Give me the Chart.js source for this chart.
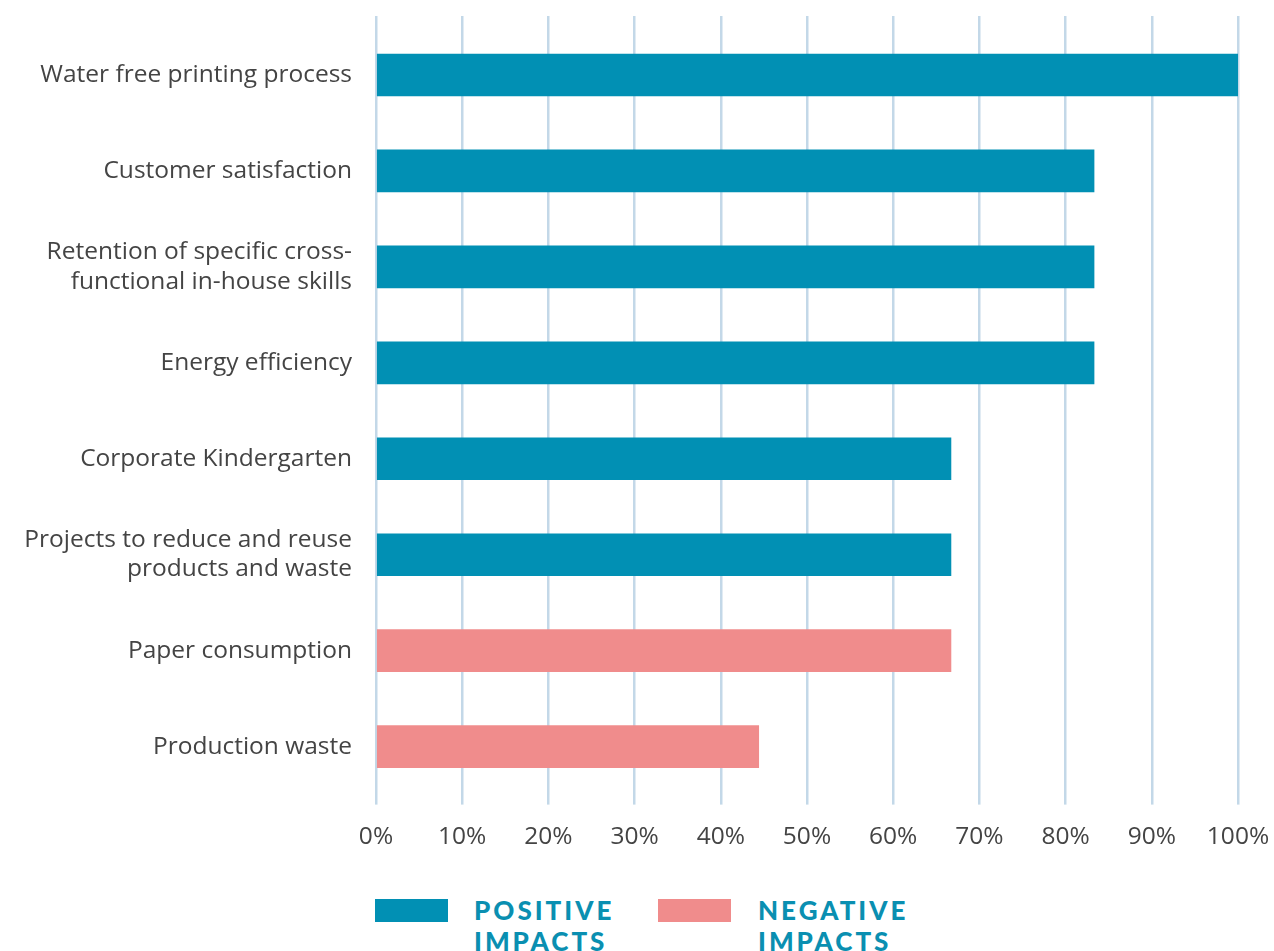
<!DOCTYPE html>
<html>
<head>
<meta charset="utf-8">
<script src="https://cdn.jsdelivr.net/npm/chart.js@4.4.1/dist/chart.umd.min.js"></script>
<style>
  html, body { margin: 0; padding: 0; background: #fff; overflow: hidden; }
  #wrap { position: relative; width: 1274px; height: 951px; }
  #chart-box { position: absolute; left: 0; top: 0; width: 1274px; height: 870px; }
  .legend { position: absolute; top: 895px; font-family: Lato, sans-serif; font-weight: 900;
            color: #0a8fb1; font-size: 26px; letter-spacing: 3px; line-height: 31px; }
  .swatch { position: absolute; top: 899px; width: 73px; height: 23px; }
</style>
</head>
<body>
<div id="wrap">
  <div id="chart-box"><canvas id="impactChart"></canvas></div>
  <div class="swatch" style="left:375px;background:#0190b4"></div>
  <div class="legend" style="left:474px">POSITIVE<br>IMPACTS</div>
  <div class="swatch" style="left:658px;background:#f08c8c"></div>
  <div class="legend" style="left:758px">NEGATIVE<br>IMPACTS</div>
</div>
<script>
const categories = [
  'Water free printing process',
  'Customer satisfaction',
  ['Retention of specific cross-', 'functional in-house skills'],
  'Energy efficiency',
  'Corporate Kindergarten',
  ['Projects to reduce and reuse', 'products and waste'],
  'Paper consumption',
  'Production waste'
];
const positiveImpacts = [100, 83.3, 83.3, 83.3, 66.7, 66.7, null, null];
const negativeImpacts = [null, null, null, null, null, null, 66.7, 44.4];
const tickValues = [0, 10, 20, 30, 40, 50, 60, 70, 80, 90, 100];

const gridColor = '#c3d8e8';
const labelFont = { family: 'Open Sans', size: 24.5 };

// drop the extra room Chart.js keeps for overflowing labels
function noLabelPadding(scale) {
  scale.paddingLeft = 0;
  scale.paddingRight = 0;
  scale.paddingTop = 0;
  scale.paddingBottom = 0;
}

const ctx = document.getElementById('impactChart');

new Chart(ctx, {
  type: 'bar',
  data: {
    labels: categories,
    datasets: [{
      label: 'Positive impacts',
      data: positiveImpacts,
      backgroundColor: '#0190b4',
      barThickness: 42,
      grouped: false
    }, {
      label: 'Negative impacts',
      data: negativeImpacts,
      backgroundColor: '#f08c8c',
      barThickness: 42,
      grouped: false
    }]
  },
  options: {
    indexAxis: 'y',
    responsive: true,
    maintainAspectRatio: false,
    animation: false,
    layout: { padding: { top: 16, right: 36, bottom: 0, left: 0 } },
    plugins: {
      legend: { display: false },
      tooltip: { enabled: false }
    },
    scales: {
      x: {
        position: 'bottom',
        min: 0,
        max: 100,
        afterBuildTicks: function (scale) {
          scale.ticks = tickValues.map(function (v) { return { value: v }; });
        },
        afterFit: noLabelPadding,
        grid: { color: gridColor, lineWidth: 2.5, tickLength: 10, drawTicks: true },
        border: { display: false },
        ticks: {
          padding: 18,
          color: '#444',
          font: labelFont,
          maxRotation: 0,
          callback: function (v) { return v + '%'; }
        }
      },
      x2: {
        position: 'top',
        axis: 'x',
        min: 0,
        max: 100,
        afterBuildTicks: function (scale) {
          scale.ticks = tickValues.map(function (v) { return { value: v }; });
        },
        afterFit: noLabelPadding,
        grid: { color: gridColor, lineWidth: 2.5, tickLength: 11, drawOnChartArea: false },
        border: { display: false },
        ticks: { display: false }
      },
      y: {
        afterFit: function (scale) {
          noLabelPadding(scale);
          scale.width = 376;
        },
        grid: { display: false, drawTicks: false },
        border: { display: false },
        ticks: {
          padding: 24,
          color: '#444',
          font: labelFont
        }
      }
    }
  }
});
</script>
</body>
</html>
